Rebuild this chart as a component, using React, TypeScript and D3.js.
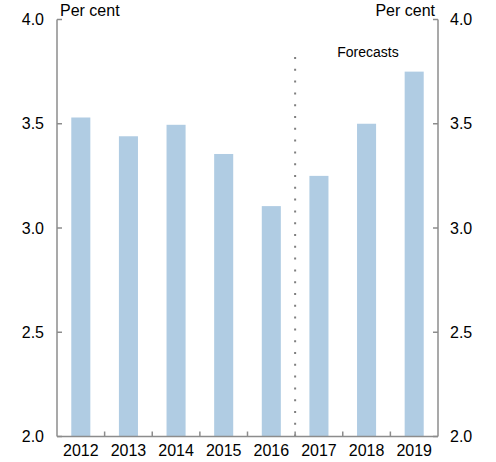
import React, { useEffect } from "react";
import * as d3 from "d3";

const years = ["2012", "2013", "2014", "2015", "2016", "2017", "2018", "2019"];
const values = [3.53, 3.44, 3.495, 3.355, 3.105, 3.25, 3.5, 3.75];
const yTicks = [2.0, 2.5, 3.0, 3.5, 4.0];
const forecastStart = "2017";

const width = 496;
const height = 462;
const margin = { top: 19.5, right: 58, bottom: 25.5, left: 57 };
const axisColor = "#8c8c8c";
const barColor = "#b0cce3";
const font = "Arial, 'Liberation Sans', sans-serif";

export default function App() {
  const svgRef = React.useRef(null);

  useEffect(() => {
    document.body.style.margin = "0";
    const svg = d3.select(svgRef.current);
    svg.selectAll("*").remove();

    const x0 = margin.left;
    const x1 = width - margin.right;
    const yBottom = height - margin.bottom;

    const x = d3
      .scaleBand()
      .domain(years)
      .range([x0, x1])
      .paddingInner(0.6)
      .paddingOuter(0.3);

    const y = d3.scaleLinear().domain([2, 4]).range([yBottom, margin.top]);

    // bars
    svg
      .append("g")
      .selectAll("rect")
      .data(years)
      .enter()
      .append("rect")
      .attr("x", (d) => x(d))
      .attr("y", (d, i) => y(values[i]))
      .attr("width", x.bandwidth())
      .attr("height", (d, i) => yBottom - y(values[i]))
      .attr("fill", barColor);

    // forecast divider
    const divX = x(forecastStart) - (x.step() * x.paddingInner()) / 2;
    svg
      .append("line")
      .attr("x1", divX)
      .attr("x2", divX)
      .attr("y1", 57)
      .attr("y2", yBottom)
      .attr("stroke", "#7f7f7f")
      .attr("stroke-width", 2)
      .attr("stroke-dasharray", "2,9.8");

    // left axis
    const left = svg.append("g");
    left
      .append("line")
      .attr("x1", x0)
      .attr("x2", x0)
      .attr("y1", y(4))
      .attr("y2", yBottom)
      .attr("stroke", axisColor)
      .attr("stroke-width", 1.5);
    left
      .selectAll("line.tick")
      .data(yTicks)
      .enter()
      .append("line")
      .attr("class", "tick")
      .attr("x1", x0)
      .attr("x2", x0 + 5)
      .attr("y1", (d) => y(d))
      .attr("y2", (d) => y(d))
      .attr("stroke", axisColor)
      .attr("stroke-width", 1.5);
    left
      .selectAll("text")
      .data(yTicks)
      .enter()
      .append("text")
      .attr("x", 44)
      .attr("y", (d) => y(d) + 5.5)
      .attr("text-anchor", "end")
      .style("font-family", font)
      .style("font-size", "16px")
      .text((d) => d3.format(".1f")(d));

    // right axis
    const right = svg.append("g");
    right
      .append("line")
      .attr("x1", x1)
      .attr("x2", x1)
      .attr("y1", y(4))
      .attr("y2", yBottom)
      .attr("stroke", axisColor)
      .attr("stroke-width", 1.5);
    right
      .selectAll("line.tick")
      .data(yTicks)
      .enter()
      .append("line")
      .attr("class", "tick")
      .attr("x1", x1)
      .attr("x2", x1 - 5)
      .attr("y1", (d) => y(d))
      .attr("y2", (d) => y(d))
      .attr("stroke", axisColor)
      .attr("stroke-width", 1.5);
    right
      .selectAll("text")
      .data(yTicks)
      .enter()
      .append("text")
      .attr("x", 450)
      .attr("y", (d) => y(d) + 5.5)
      .attr("text-anchor", "start")
      .style("font-family", font)
      .style("font-size", "16px")
      .text((d) => d3.format(".1f")(d));

    // bottom axis
    const bottom = svg.append("g");
    bottom
      .append("line")
      .attr("x1", x0)
      .attr("x2", x1)
      .attr("y1", yBottom)
      .attr("y2", yBottom)
      .attr("stroke", axisColor)
      .attr("stroke-width", 1.5);
    bottom
      .selectAll("line.tick")
      .data(years.slice(1))
      .enter()
      .append("line")
      .attr("class", "tick")
      .attr("x1", (d) => x(d) - (x.step() * x.paddingInner()) / 2)
      .attr("x2", (d) => x(d) - (x.step() * x.paddingInner()) / 2)
      .attr("y1", yBottom)
      .attr("y2", yBottom - 5)
      .attr("stroke", axisColor)
      .attr("stroke-width", 1.5);
    bottom
      .selectAll("text")
      .data(years)
      .enter()
      .append("text")
      .attr("x", (d) => x(d) + x.bandwidth() / 2)
      .attr("y", 456)
      .attr("text-anchor", "middle")
      .style("font-family", font)
      .style("font-size", "16px")
      .text((d) => d);

    // unit labels
    svg
      .append("text")
      .attr("x", 60)
      .attr("y", 16)
      .style("font-family", font)
      .style("font-size", "16px")
      .text("Per cent");
    svg
      .append("text")
      .attr("x", 435)
      .attr("y", 16)
      .attr("text-anchor", "end")
      .style("font-family", font)
      .style("font-size", "16px")
      .text("Per cent");
    svg
      .append("text")
      .attr("x", 368)
      .attr("y", 57)
      .attr("text-anchor", "middle")
      .style("font-family", font)
      .style("font-size", "14px")
      .text("Forecasts");
  }, []);

  return <svg ref={svgRef} width={width} height={height} style={{ display: "block" }} />;
}
